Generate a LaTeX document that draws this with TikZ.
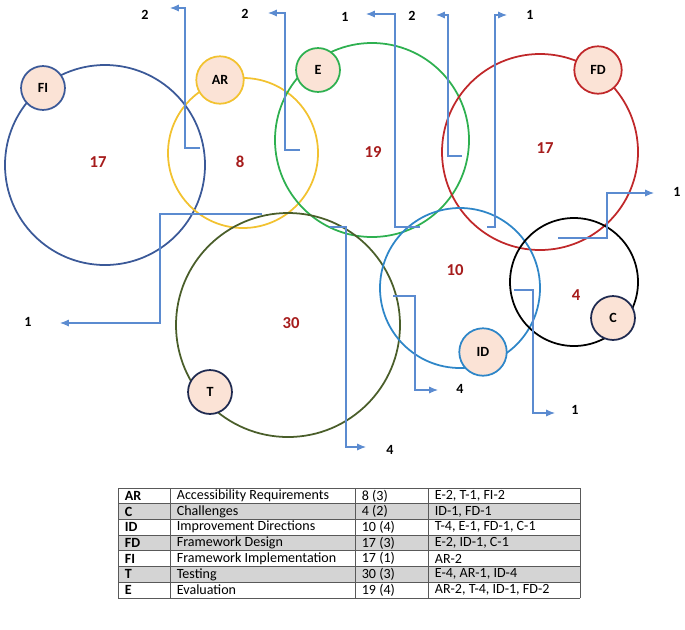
\documentclass[tikz,border=0pt]{standalone}
\usepackage{fontspec}
\setmainfont{Carlito}
\usetikzlibrary{arrows.meta}

\tikzset{
  ring/.style={draw, line width=1pt},
  tag/.style={circle, draw=#1, fill=peach, line width=1pt, minimum size=25pt, inner sep=0pt, font=\fontsize{8}{9}\selectfont\bfseries},
  count/.style={text=numred, font=\fontsize{9.5}{11}\selectfont\bfseries},
  link/.style={draw=linkblue, line width=0.6pt, -{Latex[length=5pt,width=4pt]}},
  lbl/.style={font=\fontsize{8}{9}\selectfont\bfseries},
  cell/.style={anchor=west, font=\fontsize{8}{9}\selectfont, inner sep=2pt}
}
\definecolor{peach}{HTML}{FBE3D6}
\definecolor{numred}{HTML}{A61C1C}
\definecolor{linkblue}{HTML}{5B8BD0}
\definecolor{cFI}{HTML}{3B5998}
\definecolor{cAR}{HTML}{F2C230}
\definecolor{cE}{HTML}{2EB050}
\definecolor{cFD}{HTML}{C0282A}
\definecolor{cT}{HTML}{4A5E2A}
\definecolor{cID}{HTML}{2E86C8}
\definecolor{cC}{HTML}{1F2A50}
\definecolor{rowgray}{HTML}{D4D4D4}

\begin{document}
\begin{tikzpicture}[x=0.02cm, y=-0.02cm]
    \useasboundingbox (0,0) rectangle (685,629);

    % Big circles
    \draw [ring, cFI] (105,165) circle (100);
    \draw [ring, cAR] (243,153) circle (75);
    \draw [ring, cE]  (372,140) circle (97);
    \draw [ring, cFD] (540,152) circle (98);
    \draw [ring, cT]  (288,325) circle (112);
    \draw [ring, cID] (460,288) circle (80);
    \draw [ring, black] (574,282) circle (64);

    % Tags
    \node [tag=cFI]  (tFI) at (43,88)   {FI};
    \node [tag=cAR, minimum size=27pt]  (tAR) at (220,80)  {AR};
    \node [tag=cE]   (tE)  at (318,70)  {E};
    \node [tag=cFD, minimum size=27pt]  (tFD) at (598,70)  {FD};
    \node [tag=cC] (tT) at (210,392) {T};
    \node [tag=cID, minimum size=27pt] (tID) at (483,352) {ID};
    \node [tag=cC]   (tC)  at (613,318) {C};

    % Counts
    \node [count] (nFI) at (98,162)  {17};
    \node [count] (nAR) at (240,162) {8};
    \node [count] (nE)  at (373,152) {19};
    \node [count] (nFD) at (545,148) {17};
    \node [count] (nT)  at (291,323) {30};
    \node [count] (nID) at (455,270) {10};
    \node [count] (nC)  at (576,295) {4};

    % Links
    \node [lbl] (l1) at (145,15)  {2};
    \node [lbl] (l2) at (245,14)  {2};
    \node [lbl] (l3) at (345,17)  {1};
    \node [lbl] (l4) at (412,16)  {2};
    \node [lbl] (l5) at (530,15)  {1};
    \node [lbl] (l6) at (28,322)  {1};
    \node [lbl] (l7) at (390,450) {4};
    \node [lbl] (l8) at (460,389) {4};
    \node [lbl] (l9) at (575,410) {1};
    \node [lbl] (l10) at (677,192) {1};
    \draw [link] (200,148) -- (185,148) -- (185,8)   -- (170,8);
    \draw [link] (300,150) -- (285,150) -- (285,13)  -- (268,13);
    \draw [link] (420,227) -- (395,227) -- (395,14)  -- (366,14);
    \draw [link] (462,156) -- (448,156) -- (448,15)  -- (436,15);
    \draw [link] (487,227) -- (495,227) -- (495,15)  -- (507,15);
    \draw [link] (262,214) -- (160,214) -- (160,323) -- (60,323);
    \draw [link] (330,227) -- (346,227) -- (346,447) -- (366,447);
    \draw [link] (393,296) -- (415,296) -- (415,390) -- (438,390);
    \draw [link] (514,290) -- (533,290) -- (533,413) -- (555,413);
    \draw [link] (558,238) -- (607,238) -- (607,193) -- (654,193);

    % Table
    \foreach \r/\k/\n/\v/\e [count=\i] in {
        AR/Accessibility Requirements/8 (3)/{E-2, T-1, FI-2},
        C/Challenges/4 (2)/{ID-1, FD-1},
        ID/Improvement Directions/10 (4)/{T-4, E-1, FD-1, C-1},
        FD/Framework Design/17 (3)/{E-2, ID-1, C-1},
        FI/Framework Implementation/17 (1)/AR-2,
        T/Testing/30 (3)/{E-4, AR-1, ID-4},
        E/Evaluation/19 (4)/{AR-2, T-4, ID-1, FD-2}} {
      \pgfmathsetmacro{\top}{488+(\i-1)*15.7}
      \pgfmathsetmacro{\mid}{\top+7.85}
      \ifodd\i \else \fill [rowgray] (118,\top) rectangle (580,\top+15.7); \fi
      \node [cell, font=\fontsize{8}{9}\selectfont\bfseries] (a\i) at (121,\mid) {\r};
      \node [cell] (b\i) at (173,\mid) {\k};
      \node [cell] (c\i) at (358,\mid) {\n};
      \node [cell] (d\i) at (431,\mid) {\e};
    }
    \foreach \y in {488,503.7,519.4,535.1,550.8,566.5,582.2,597.9}
      \draw [line width=0.4pt, gray!70!black] (118,\y) -- (580,\y);
    \foreach \x in {118,170,355,428,580}
      \draw [line width=0.4pt, gray!70!black] (\x,488) -- (\x,597.9);
\end{tikzpicture}
\end{document}
